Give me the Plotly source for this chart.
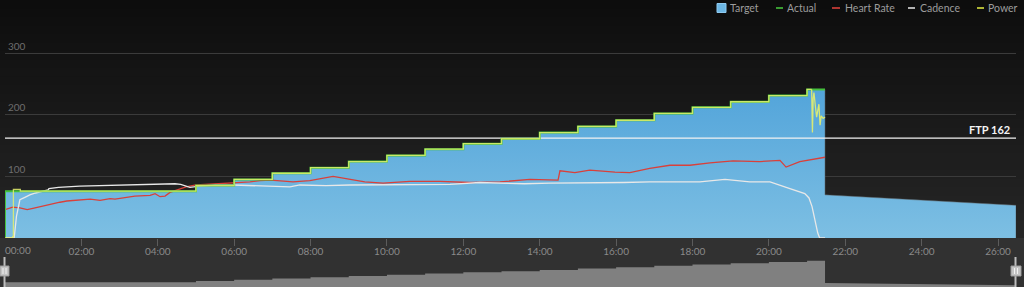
import plotly.graph_objects as go

# ---------------- data ----------------
FTP = 162
step_start_min = [0, 5, 6, 7, 8, 9, 10, 11, 12, 13, 14, 15, 16, 17, 18, 19, 20, 21]
step_watts = [76, 85, 95, 105, 114, 124, 134, 144, 153, 161, 171, 181, 191, 202, 212, 221, 231, 241]
ramp_end_min = 21.47
cooldown_min = [21.47, 26.47]
cooldown_watts = [70, 53]

hr_min = [0.0, 0.20, 0.39, 0.58, 0.73, 0.92, 1.18, 1.44, 1.62, 1.83, 2.23, 2.49, 2.75, 2.88,
          3.14, 3.40, 3.80, 3.93, 4.06, 4.19, 4.32, 4.58, 4.74, 5.0, 5.37, 5.97, 6.41, 6.68,
          6.96, 7.54, 7.98, 8.59, 9.03, 9.42, 9.90, 10.60, 11.39, 12.17, 12.96, 13.74, 14.48,
          14.53, 14.92, 15.31, 15.97, 16.36, 16.88, 17.41, 17.93, 18.46, 19.06, 19.76, 20.29,
          20.45, 20.81, 21.13, 21.47]
hr_bpm = [46, 50, 49, 46, 48, 51, 55, 58, 60, 61, 63, 61, 64, 63,
          66, 68, 69, 72, 67, 68, 74, 79, 83, 86, 87, 89, 91, 93,
          94, 91, 93, 100, 95, 91, 89, 92, 92, 90, 91, 95, 94,
          109, 106, 110, 107, 106, 113, 118, 118, 122, 125, 124, 126,
          115, 124, 128, 131]

cad_min = [0, 0.24, 0.30, 0.39, 0.52, 0.65, 0.80, 0.94, 1.13, 1.15, 1.40, 1.96, 2.49, 3.00,
           3.53, 4.06, 4.45, 4.60, 4.84, 5.10, 5.50, 5.97, 6.41, 6.90, 7.46, 7.72, 8.40, 9.03,
           9.70, 10.34, 11.00, 11.65, 12.43, 12.96, 13.60, 14.27, 14.90, 15.58, 16.20, 16.88,
           17.40, 17.93, 18.19, 18.85, 19.50, 20.03, 20.29, 20.55, 20.94, 21.05, 21.13, 21.20,
           21.28, 21.33, 21.47]
cad_rpm = [0, 0, 35, 62, 66, 70, 73, 75, 78, 80, 82, 84, 85, 86,
           87, 88, 88, 87, 82, 84, 86, 86, 85, 84, 83, 86, 85, 86,
           86, 87, 86, 87, 90, 89, 88, 89, 89, 90, 90, 91,
           91, 91, 91, 95, 91, 91, 86, 80, 72, 65, 51, 29,
           8, 0, 0]

power_min = [0, 0.20, 0.22, 0.40, 5, 6, 7, 8, 9, 10, 11, 12, 13, 14, 15, 16, 17, 18, 19, 20,
             21, 21.12]
power_watts = [0, 2, 79, 76, 85, 95, 105, 114, 124, 134, 144, 153, 161, 171, 181, 191, 202,
               212, 221, 231, 241, 241]
power_end_min = [21.12, 21.14, 21.16, 21.18, 21.22, 21.25, 21.31, 21.34, 21.37, 21.42, 21.47]
power_end_watts = [241, 171, 226, 236, 212, 196, 217, 183, 198, 194, 196]

x_tick_min = [0, 2, 4, 6, 8, 10, 12, 14, 16, 18, 20, 22, 24, 26]
x_tick_labels = ["00:00", "02:00", "04:00", "06:00", "08:00", "10:00", "12:00",
                 "14:00", "16:00", "18:00", "20:00", "22:00", "24:00", "26:00"]
y_ticks = [100, 200, 300]
legend_names = ["Target", "Actual", "Heart Rate", "Cadence", "Power"]

X_MAX = 26.47

# ---------------- build target outline ----------------
tx, ty = [0], [0]
for i, (s, w) in enumerate(zip(step_start_min, step_watts)):
    e = step_start_min[i + 1] if i + 1 < len(step_start_min) else ramp_end_min
    tx += [s, e]
    ty += [w, w]
tx += cooldown_min + [cooldown_min[-1]]
ty += cooldown_watts + [0]

# ---------------- layout geometry (pixels) ----------------
W, H = 1024, 287
ML, MR, MT, MB = 5, 8, 20, 0
PW = W - ML - MR
PH = H - MT - MB


def px(xp):
    return (xp - ML) / PW


def py(yp):
    return (H - MB - yp) / PH


BLUE_TOP = "#52a4da"
BLUE_BOT = "#7dbfe3"
GREEN = "#45c13d"
RED = "#d9403a"
WHITE = "#e8e8e8"
YELLOW = "#e4ef6e"
FONT = "Lato"

fig = go.Figure()

fig.add_trace(go.Scatter(
    x=tx, y=ty, mode="lines", fill="toself",
    line=dict(color="rgba(90,90,90,0.6)", width=0.8),
    fillgradient=dict(type="vertical", colorscale=[[0, BLUE_BOT], [1, BLUE_TOP]],
                      start=0, stop=245),
    name=legend_names[0], showlegend=False, hoverinfo="skip"))

fig.add_trace(go.Scatter(
    x=[0, X_MAX], y=[FTP, FTP], mode="lines",
    line=dict(color="#f2f2f2", width=1.2), showlegend=False, hoverinfo="skip"))

fig.add_trace(go.Scatter(x=hr_min, y=hr_bpm, mode="lines", name=legend_names[2],
                         line=dict(color=RED, width=1.3), showlegend=False))
fig.add_trace(go.Scatter(x=cad_min, y=cad_rpm, mode="lines", name=legend_names[3],
                         line=dict(color=WHITE, width=1.3), showlegend=False))
fig.add_trace(go.Scatter(
    x=[0] + step_start_min + [ramp_end_min], y=[0] + step_watts + [step_watts[-1]],
    mode="lines", line_shape="hv", name=legend_names[1],
    line=dict(color=GREEN, width=2), showlegend=False))
fig.add_trace(go.Scatter(x=power_min, y=power_watts, mode="lines", line_shape="hv",
                         name=legend_names[4],
                         line=dict(color=YELLOW, width=1.3), opacity=0.85, showlegend=False))
fig.add_trace(go.Scatter(x=power_end_min, y=power_end_watts, mode="lines",
                         line=dict(color=YELLOW, width=1.3), opacity=0.9, showlegend=False))

# mini navigator
fig.add_trace(go.Scatter(x=tx, y=ty, mode="lines", fill="toself", xaxis="x2", yaxis="y2",
                         line=dict(color="#808080", width=0), fillcolor="#808080",
                         showlegend=False, hoverinfo="skip"))

ftext = [("" if i == 0 else t) for i, t in enumerate(x_tick_labels)]

fig.update_layout(
    width=W, height=H,
    margin=dict(l=ML, r=MR, t=MT, b=MB, pad=0),
    paper_bgcolor="#0e0e0e", plot_bgcolor="rgba(0,0,0,0)",
    font=dict(family=FONT, color="#8c8c8c", size=10),
    showlegend=False, hovermode=False,
    xaxis=dict(domain=[0, 1], range=[0, X_MAX], anchor="y", tickmode="array",
               tickvals=x_tick_min, ticktext=ftext, ticks="outside", ticklen=7,
               tickcolor="#5c5c5c", tickwidth=1, showgrid=False, zeroline=False,
               showline=False, ticklabelstandoff=-3,
               tickfont=dict(size=10, color="#8a8a8a")),
    yaxis=dict(domain=[py(238), 1], range=[0, (238 - MT) / 0.6165], tickmode="array",
               tickvals=y_ticks, ticklabelposition="inside top", showgrid=True,
               gridcolor="#3b3b3b", gridwidth=1, zeroline=False, showline=False,
               tickfont=dict(size=10, color="#6e6e6e")),
    xaxis2=dict(domain=[0, 1], range=[0, X_MAX], anchor="y2", showticklabels=False,
                ticks="", showgrid=False, zeroline=False, showline=False),
    yaxis2=dict(domain=[0, py(252)], range=[40, 308], showticklabels=False, ticks="",
                showgrid=False, zeroline=False, showline=False),
)

shapes = []
# background gradient
N = 28
top, bot = 0, 238
c0, c1 = 13, 38
for i in range(N):
    y0 = top + (bot - top) * i / N
    y1 = top + (bot - top) * (i + 1) / N + 0.6
    c = int(round(c0 + (c1 - c0) * (i + 0.5) / N))
    shapes.append(dict(type="rect", xref="paper", yref="paper", x0=px(0), x1=px(W),
                       y0=py(y1), y1=py(y0), fillcolor=f"rgb({c},{c},{c})",
                       line=dict(width=0), layer="below"))
shapes.append(dict(type="rect", xref="paper", yref="paper", x0=px(0), x1=px(W),
                   y0=py(H), y1=py(238), fillcolor="#313131", line=dict(width=0),
                   layer="below"))
# navigator handles
for lx, rx0, rx1 in [(4.5, 0, 9), (1015.5, 1011, 1021)]:
    shapes.append(dict(type="line", xref="paper", yref="paper", x0=px(lx), x1=px(lx),
                       y0=py(287), y1=py(257), line=dict(color="#bdbdbd", width=2)))
    shapes.append(dict(type="rect", xref="paper", yref="paper", x0=px(rx0), x1=px(rx1),
                       y0=py(276), y1=py(266), fillcolor="#c4c4c4",
                       line=dict(color="#9a9a9a", width=1)))
    for dx in (-1.5, 1.5):
        cx = (rx0 + rx1) / 2 + dx
        shapes.append(dict(type="line", xref="paper", yref="paper", x0=px(cx), x1=px(cx),
                           y0=py(274), y1=py(268), line=dict(color="#f2f2f2", width=1)))

# legend glyphs
legend_items = [("square", 717, 726, 730, BLUE_TOP),
                ("line", 776, 783, 787, GREEN),
                ("line", 832, 840, 845, RED),
                ("line", 908, 915, 920, "#dddddd"),
                ("line", 977, 984, 988, "#d8e040")]
annotations = []
for (kind, g0, g1, tx0, col), name in zip(legend_items, legend_names):
    if kind == "square":
        shapes.append(dict(type="rect", xref="paper", yref="paper", x0=px(g0), x1=px(g1),
                           y0=py(12.5), y1=py(3.5), fillcolor="#6cb6e4",
                           line=dict(color="#8fcaf0", width=1)))
    else:
        shapes.append(dict(type="line", xref="paper", yref="paper", x0=px(g0), x1=px(g1),
                           y0=py(8), y1=py(8), line=dict(color=col, width=1.6)))
    annotations.append(dict(xref="paper", yref="paper", x=px(tx0 - 2), y=py(8),
                            xanchor="left", yanchor="middle", text=name, showarrow=False,
                            font=dict(family=FONT, size=10.5, color="#9c9c9c")))

# first time label sits to the right of its tick
annotations.append(dict(xref="x", yref="paper", x=x_tick_min[0], y=py(250),
                        xanchor="left", yanchor="middle", text=x_tick_labels[0],
                        showarrow=False, xshift=-2,
                        font=dict(family=FONT, size=10, color="#8a8a8a")))

annotations.append(dict(xref="paper", yref="y", x=px(1012), y=FTP, xanchor="right",
                        yanchor="bottom", text="<b>FTP 162</b>", showarrow=False, yshift=0,
                        font=dict(family=FONT, size=11, color="#f4f4f4")))

fig.update_layout(shapes=shapes, annotations=annotations)
fig.write_html("out.html")
